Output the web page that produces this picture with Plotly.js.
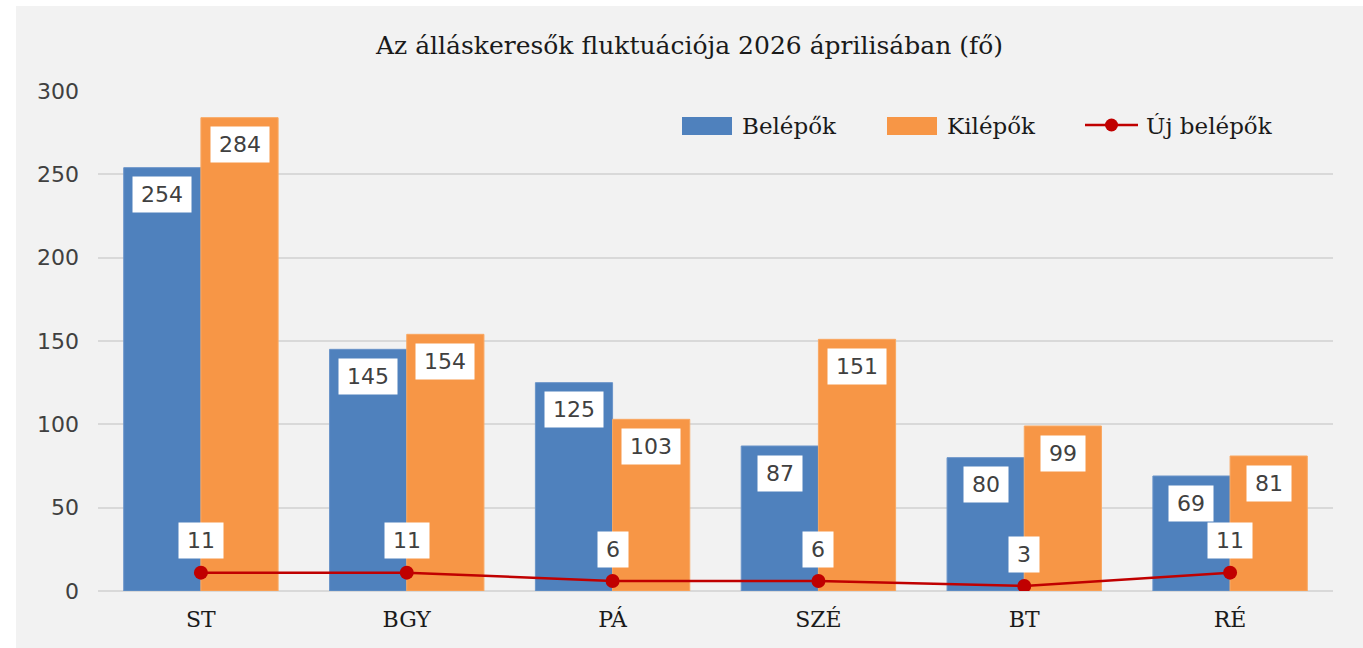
<!DOCTYPE html>
<html>
<head>
<meta charset="utf-8">
<script src="https://cdn.plot.ly/plotly-3.0.1.min.js"></script>
<style>
  html, body { margin:0; padding:0; background:#ffffff; width:1363px; height:648px; overflow:hidden; }
  #chart { position:absolute; left:16px; top:6px; width:1347px; height:642px; }
</style>
</head>
<body>
<div id="chart"></div>
<script>
const categories = ['ST', 'BGY', 'PÁ', 'SZÉ', 'BT', 'RÉ'];
const belepok = [254, 145, 125, 87, 80, 69];
const kilepok = [284, 154, 103, 151, 99, 81];
const ujBelepok = [11, 11, 6, 6, 3, 11];
const seriesNames = ['Belépők', 'Kilépők', 'Új belépők'];
const seriesColors = ['#4f81bd', '#f79646', '#c00000'];
const titleText = 'Az álláskeresők fluktuációja 2026 áprilisában (fő)';

const W = 1347, H = 642;
const offX = 16, offY = 6;               // div offset on page
const margin = {l: 82, r: 30, t: 85, b: 57};
const bargap = 0.25;
const plotW = W - margin.l - margin.r;
const plotH = H - margin.t - margin.b;
const catW = plotW / categories.length;
const barW = catW * (1 - bargap) / 2;

// page px -> paper coords
const px = (x) => (x - offX - margin.l) / plotW;
const py = (y) => (H - margin.b - (y - offY)) / plotH;

const labelFont = {family: 'DejaVu Sans', size: 22, color: '#404040'};
function boxWidth(v) { return String(v).length * 14 + 8; }

const annotations = [];
function addLabel(c, v, xshift, yshift) {
  annotations.push({x: c, y: v, xref: 'x', yref: 'y', text: String(v),
    showarrow: false, xshift: xshift, yshift: yshift, bgcolor: '#ffffff', borderpad: 4,
    width: boxWidth(v), height: 27, valign: 'middle', font: labelFont});
}
categories.forEach((c, i) => {
  addLabel(c, belepok[i], -barW / 2, -27);
  addLabel(c, kilepok[i], barW / 2, -27);
  addLabel(c, ujBelepok[i], 0, 32);
});

// manual legend
const legendFont = {family: 'DejaVu Serif', size: 23, color: '#1a1a1a'};
const legY = 126;
const legTextX = [740, 945, 1144];
const shapes = [
  {type: 'rect', xref: 'paper', yref: 'paper', x0: px(682), x1: px(732), y0: py(legY + 9), y1: py(legY - 9),
   fillcolor: seriesColors[0], line: {width: 0}},
  {type: 'rect', xref: 'paper', yref: 'paper', x0: px(887), x1: px(937), y0: py(legY + 9), y1: py(legY - 9),
   fillcolor: seriesColors[1], line: {width: 0}},
  {type: 'line', xref: 'paper', yref: 'paper', x0: px(1085), x1: px(1138), y0: py(legY - 1), y1: py(legY - 1),
   line: {color: seriesColors[2], width: 2.5}},
  {type: 'circle', xref: 'paper', yref: 'paper', x0: px(1105), x1: px(1118), y0: py(legY + 5.5), y1: py(legY - 7.5),
   fillcolor: seriesColors[2], line: {width: 0}}
];
seriesNames.forEach((n, i) => {
  annotations.push({xref: 'paper', yref: 'paper', x: px(legTextX[i]), y: py(legY), xanchor: 'left', yanchor: 'middle',
    text: n, showarrow: false, font: legendFont});
});

const data = [
  {type: 'bar', name: seriesNames[0], x: categories, y: belepok,
   marker: {color: seriesColors[0], line: {color: '#6a94c9', width: 1}}, hoverinfo: 'skip'},
  {type: 'bar', name: seriesNames[1], x: categories, y: kilepok,
   marker: {color: seriesColors[1], line: {color: '#f9a862', width: 1}}, hoverinfo: 'skip'},
  {type: 'scatter', mode: 'lines+markers', name: seriesNames[2], x: categories, y: ujBelepok,
   line: {color: seriesColors[2], width: 2.5}, marker: {color: seriesColors[2], size: 14}, hoverinfo: 'skip'}
];

const layout = {
  width: W, height: H,
  margin: margin,
  paper_bgcolor: '#f2f2f2',
  plot_bgcolor: 'rgba(0,0,0,0)',
  barmode: 'group',
  bargap: bargap,
  bargroupgap: 0,
  showlegend: false,
  title: {text: titleText, x: 0.5, xanchor: 'center', xref: 'container', y: 1 - 39 / H, yanchor: 'middle',
          font: {family: 'DejaVu Serif', size: 25, color: '#1a1a1a'}},
  xaxis: {type: 'category', showgrid: false, zeroline: false, showline: false, ticks: '',
          tickfont: {family: 'DejaVu Serif', size: 22, color: '#1a1a1a'}, ticklabelstandoff: 13,
          fixedrange: true},
  yaxis: {range: [0, 300], dtick: 50, tick0: 0, showgrid: true, gridcolor: '#d9d9d9', gridwidth: 2,
          zeroline: true, zerolinecolor: '#d9d9d9', zerolinewidth: 2, showline: false, ticks: '',
          tickfont: {family: 'DejaVu Sans', size: 22, color: '#404040'}, ticklabelstandoff: 18,
          fixedrange: true},
  shapes: shapes,
  annotations: annotations
};

Plotly.newPlot('chart', data, layout, {displayModeBar: false, staticPlot: true});
</script>
</body>
</html>
